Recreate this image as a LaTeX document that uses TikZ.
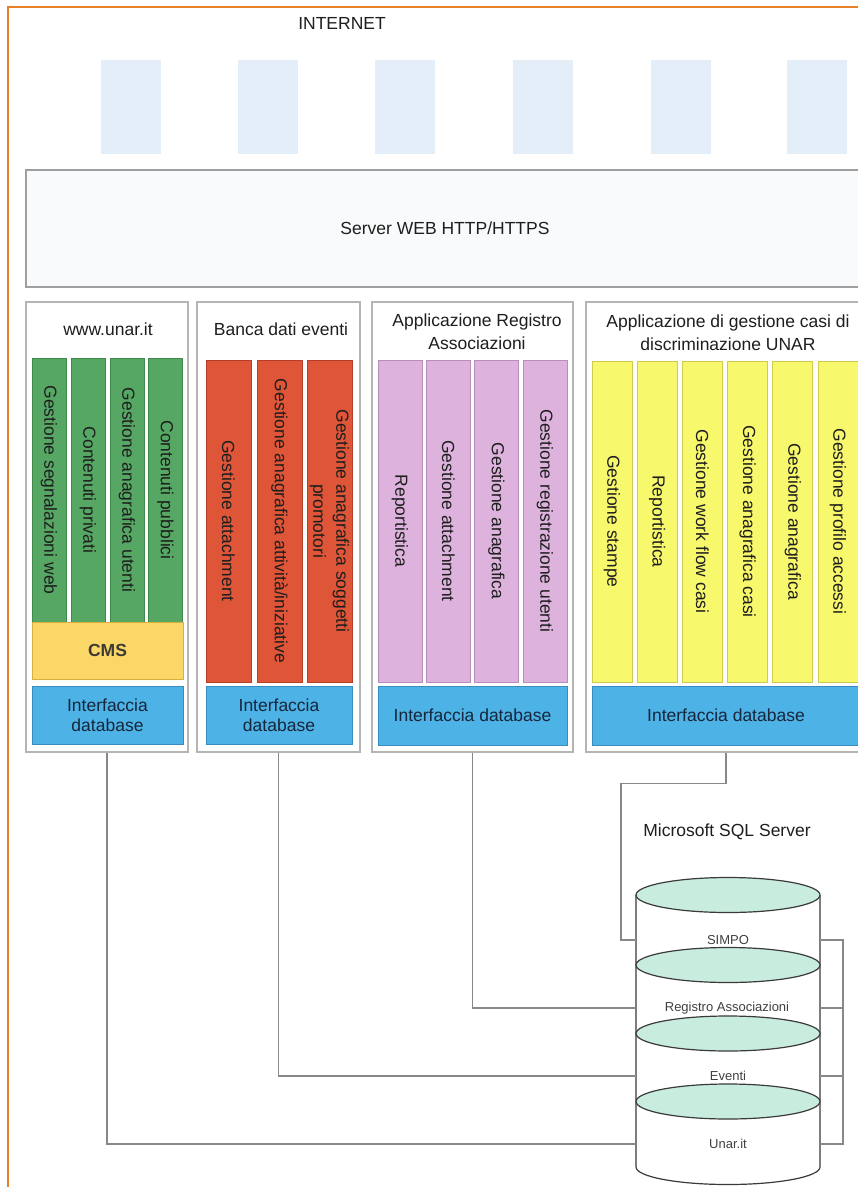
\documentclass[tikz,border=0pt]{standalone}
\usepackage{fontspec}
\setmainfont{Liberation Sans}
\usetikzlibrary{calc}
\definecolor{frameorange}{HTML}{E8802A}
\definecolor{iconblue}{HTML}{E3EEF9}
\definecolor{srvfill}{HTML}{F8FAFB}
\definecolor{panelline}{HTML}{B5B5B5}
\definecolor{connline}{HTML}{888888}
\definecolor{txt}{HTML}{1E1E1E}
\definecolor{ifacetxt}{HTML}{16263C}
\definecolor{gfill}{HTML}{56A763}
\definecolor{gline}{HTML}{3F8A4B}
\definecolor{rfill}{HTML}{DE5538}
\definecolor{rline}{HTML}{B33F28}
\definecolor{pfill}{HTML}{DDB2DD}
\definecolor{pline}{HTML}{B98DB9}
\definecolor{yfill}{HTML}{F8F86C}
\definecolor{yline}{HTML}{CFCB4C}
\definecolor{cmsfill}{HTML}{FAD766}
\definecolor{cmsline}{HTML}{D9B040}
\definecolor{bfill}{HTML}{4DB2E5}
\definecolor{bline}{HTML}{3A8CBF}
\definecolor{mint}{HTML}{C8ECDE}
\definecolor{dbline}{HTML}{3A3A3A}
\newcommand\myfb{\fontsize{17.5}{23}\selectfont}
\newcommand\myfi{\fontsize{17.5}{20.5}\selectfont}
\newcommand\myfs{\fontsize{13}{15}\selectfont}
\tikzset{
  icon/.style={fill=iconblue, draw=none, minimum width=60pt, minimum height=94pt, inner sep=0pt},
  panel/.style={draw=panelline, line width=1.3pt, fill=white, inner sep=0pt},
  title/.style={font=\myfb, text=txt, align=center, inner sep=0pt},
  modbar/.style={rotate=-90, inner sep=0pt, align=center, font=\myfb, text=txt, line width=0.8pt},
  gbar/.style={modbar, fill=gfill, draw=gline, minimum width=264pt, minimum height=34pt},
  rbar/.style={modbar, fill=rfill, draw=rline, minimum width=322pt, minimum height=45pt},
  pbar/.style={modbar, fill=pfill, draw=pline, minimum width=322pt, minimum height=44pt},
  ybar/.style={modbar, fill=yfill, draw=yline, minimum width=321pt, minimum height=40pt},
  iface/.style={fill=bfill, draw=bline, line width=0.8pt, font=\myfi, text=ifacetxt, align=center, inner sep=0pt, minimum height=58pt},
  conn/.style={draw=connline, line width=1.4pt},
  dbell/.style={fill=mint, draw=dbline, line width=1.2pt},
  dblabel/.style={font=\myfs, text=txt!85, inner sep=0pt}
}
\begin{document}
\begin{tikzpicture}[x=1pt,y=-1pt]
\useasboundingbox (0,0) rectangle (858,1187);
\clip (0,0) rectangle (858,1187);
\fill[white] (0,0) rectangle (858,1187);
% frame
\draw[frameorange, line width=2.2pt] (8,7) rectangle (900,1260);

% internet
\node[title] (inet) at (342,23) {INTERNET};
\foreach \i/\cx in {1/131,2/268,3/405,4/543,5/681,6/816.5}
  \node[icon] (ic\i) at (\cx,107) {};

% web server
\node[draw=gray!75, line width=1.5pt, fill=srvfill, minimum width=840pt, minimum height=117pt, inner sep=0pt] (srv) at (446,228.5) {};
\node[title] (srvt) at (445,228) {Server WEB HTTP/HTTPS};

% panels
\node[panel, minimum width=162pt, minimum height=450pt] (p1) at (107,527) {};
\node[panel, minimum width=163pt, minimum height=450pt] (p2) at (278.5,527) {};
\node[panel, minimum width=201pt, minimum height=450pt] (p3) at (472.5,527) {};
\node[panel, minimum width=280pt, minimum height=450pt] (p4) at (726,527) {};

\node[title] (t1) at (108,329) {www.unar.it};
\node[title] (t2) at (281,329) {Banca dati eventi};
\node[title] (t3) at (477,331.5) {Applicazione Registro\\Associazioni};
\node[title] (t4) at (728,332.5) {Applicazione di gestione casi di\\discriminazione UNAR};

% panel 1
\node[gbar] (g1) at (49,490) {Gestione segnalazioni web};
\node[gbar] (g2) at (88,490) {Contenuti privati};
\node[gbar] (g3) at (127,490) {Gestione anagrafica utenti};
\node[gbar] (g4) at (165.5,490) {Contenuti pubblici};
\node[fill=cmsfill, draw=cmsline, line width=0.8pt, minimum width=151pt, minimum height=57pt, inner sep=0pt, font=\myfb\bfseries, text=black!80!yellow!60!black] (cms) at (107.5,650.5) {CMS};
\node[iface, minimum width=151pt] (i1) at (107.5,715) {Interfaccia\\database};

% panel 2
\node[rbar] (r1) at (228.5,521) {Gestione attachment};
\node[rbar] (r2) at (279.5,521) {Gestione anagrafica attività/iniziative};
\node[rbar] (r3) at (329.5,521) {Gestione anagrafica soggetti\\promotori};
\node[iface, minimum width=146pt] (i2) at (279,715) {Interfaccia\\database};

% panel 3
\node[pbar] (q1) at (400,521) {Reportistica};
\node[pbar] (q2) at (448.5,521) {Gestione attachment};
\node[pbar] (q3) at (496.5,521) {Gestione anagrafica};
\node[pbar] (q4) at (545,521) {Gestione registrazione utenti};
\node[iface, minimum width=189pt, minimum height=59pt] (i3) at (472.5,715.5) {Interfaccia database};

% panel 4
\node[ybar] (y1) at (612,521.5) {Gestione stampe};
\node[ybar] (y2) at (657.2,521.5) {Reportistica};
\node[ybar] (y3) at (702.4,521.5) {Gestione work flow casi};
\node[ybar] (y4) at (747.6,521.5) {Gestione anagrafica casi};
\node[ybar] (y5) at (792.8,521.5) {Gestione anagrafica};
\node[ybar] (y6) at (838,521.5) {Gestione profilo accessi};
\node[iface, minimum width=268pt, minimum height=59pt] (i4) at (726,715.5) {Interfaccia database};

% database
\node[title] (sql) at (727,832) {Microsoft SQL Server};
\coordinate (cylL) at (636,0);
\coordinate (cylR) at (820,0);
\coordinate (rbus) at (843,0);
\fill[white] (636,895) -- (636,1167) arc[start angle=180, end angle=0, x radius=92, y radius=17.5] -- (820,895) -- cycle;
\draw[dbline, line width=1.2pt] (636,895) -- (636,1167) arc[start angle=180, end angle=0, x radius=92, y radius=17.5] -- (820,895);
\draw[dbell] (728,895) ellipse [x radius=92, y radius=17.5];
\draw[dbell] (728,965) ellipse [x radius=92, y radius=17.5];
\draw[dbell] (728,1033.5) ellipse [x radius=92, y radius=17.5];
\draw[dbell] (728,1101.5) ellipse [x radius=92, y radius=17.5];
\node[dblabel] (simpo) at (728,940) {SIMPO};
\node[dblabel] (regi) at (727,1008) {Registro Associazioni};
\node[dblabel] (even) at (728,1076) {Eventi};
\node[dblabel] (unar) at (728,1144) {Unar.it};

% connectors
\draw[conn] (p4.south) -- ++(0,31) -| (621,940) -- (cylL |- simpo);
\draw[conn] (p3.south) |- (cylL |- regi);
\draw[conn] (p2.south) |- (cylL |- even);
\draw[conn] (p1.south) |- (cylL |- unar);
\draw[conn] (cylR |- simpo) -- (rbus |- simpo) -- (rbus |- unar) -- (cylR |- unar);
\draw[conn] (cylR |- regi) -- (rbus |- regi);
\draw[conn] (cylR |- even) -- (rbus |- even);
\end{tikzpicture}
\end{document}
